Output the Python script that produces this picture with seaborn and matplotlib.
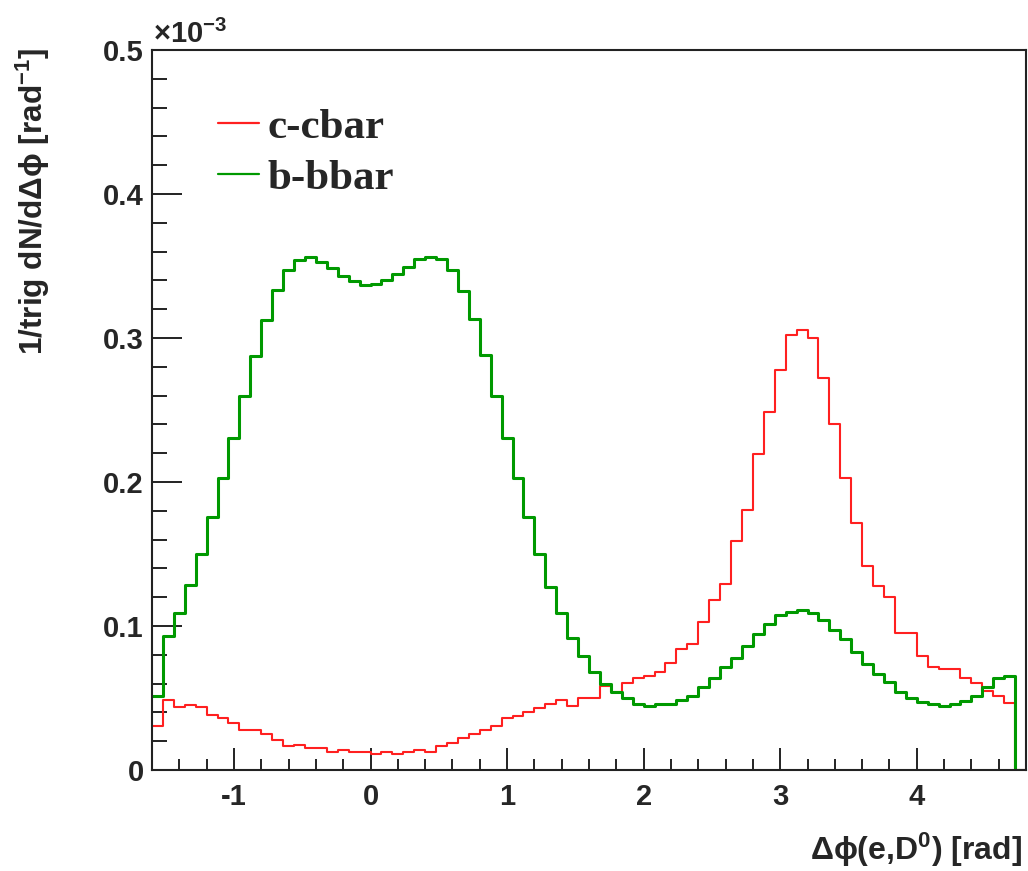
import numpy as np
import pandas as pd
import matplotlib
matplotlib.use("Agg")
import matplotlib.pyplot as plt
from matplotlib.lines import Line2D
from matplotlib.ticker import MultipleLocator, FixedLocator, FuncFormatter
import seaborn as sns

# ---- data (values in units of 1e-3 rad^-1 per trigger) ----
x_min, x_max, n_bins = -1.6, 4.8, 80

ccbar = [0.0305, 0.0485, 0.0440, 0.0454, 0.0440, 0.0384, 0.0358, 0.0325, 0.0281, 0.0281,
         0.0248, 0.0210, 0.0166, 0.0176, 0.0152, 0.0152, 0.0123, 0.0138, 0.0123, 0.0123,
         0.0109, 0.0123, 0.0109, 0.0123, 0.0138, 0.0123, 0.0166, 0.0190, 0.0219, 0.0248,
         0.0277, 0.0305, 0.0358, 0.0372, 0.0401, 0.0429, 0.0457, 0.0489, 0.0445, 0.0503,
         0.0503, 0.0584, 0.0545, 0.0601, 0.0638, 0.0652, 0.0684, 0.0740, 0.0837, 0.0874,
         0.1030, 0.1180, 0.1292, 0.1588, 0.1806, 0.2196, 0.2486, 0.2780, 0.3019, 0.3054,
         0.3003, 0.2725, 0.2405, 0.2029, 0.1714, 0.1414, 0.1278, 0.1199, 0.0948, 0.0948,
         0.0791, 0.0717, 0.0698, 0.0698, 0.0642, 0.0601, 0.0550, 0.0515, 0.0468, 0.0]

bbbar = [0.0511, 0.0928, 0.1087, 0.1283, 0.1498, 0.1754, 0.2030, 0.2305, 0.2595, 0.2873,
         0.3127, 0.3331, 0.3472, 0.3541, 0.3565, 0.3527, 0.3486, 0.3433, 0.3395, 0.3367,
         0.3373, 0.3402, 0.3443, 0.3491, 0.3546, 0.3563, 0.3546, 0.3474, 0.3323, 0.3132,
         0.2880, 0.2595, 0.2305, 0.2030, 0.1754, 0.1500, 0.1268, 0.1088, 0.0916, 0.0791,
         0.0684, 0.0596, 0.0545, 0.0503, 0.0457, 0.0443, 0.0457, 0.0457, 0.0489, 0.0512,
         0.0573, 0.0638, 0.0712, 0.0777, 0.0860, 0.0944, 0.1013, 0.1074, 0.1094, 0.1111,
         0.1088, 0.1043, 0.0972, 0.0911, 0.0819, 0.0735, 0.0666, 0.0614, 0.0545, 0.0503,
         0.0475, 0.0457, 0.0443, 0.0457, 0.0480, 0.0515, 0.0573, 0.0642, 0.0654, 0.0]

series_labels = ["c-cbar", "b-bbar"]
series_colors = ["#FF2020", "#009900"]
x_ticks = [-1, 0, 1, 2, 3, 4]
y_ticks = [0, 0.1, 0.2, 0.3, 0.4, 0.5]

edges = np.linspace(x_min, x_max, n_bins + 1)
centers = 0.5 * (edges[:-1] + edges[1:])

sns.set_style("ticks")
plt.rcParams["font.family"] = ["Liberation Sans", "DejaVu Sans"]
plt.rcParams["font.weight"] = "bold"
plt.rcParams["axes.unicode_minus"] = False
plt.rcParams["mathtext.fontset"] = "custom"
plt.rcParams["mathtext.rm"] = "Liberation Sans:bold"
plt.rcParams["mathtext.it"] = "Liberation Sans:bold"
plt.rcParams["mathtext.bf"] = "Liberation Sans:bold"
plt.rcParams["mathtext.default"] = "rm"

W, H = 1028, 871
fig = plt.figure(figsize=(W / 100, H / 100), dpi=100)
fig.patch.set_facecolor("white")
L, R, T, B = 152, 1026, 50, 770
ax = fig.add_axes([L / W, 1 - B / H, (R - L) / W, (B - T) / H])

for vals, col, lw in zip([ccbar, bbbar], series_colors, [1.5, 2.2]):
    df = pd.DataFrame({"dphi": centers, "w": vals})
    sns.histplot(data=df, x="dphi", weights="w", bins=n_bins, binrange=(x_min, x_max),
                 element="step", fill=False, color=col, linewidth=lw, ax=ax)

ax.set_xlim(x_min, x_max)
ax.set_ylim(0, 0.5)
ax.set_xlabel("")
ax.set_ylabel("")

for s in ax.spines.values():
    s.set_linewidth(1.5)
    s.set_color("#222222")

ax.xaxis.set_major_locator(FixedLocator(x_ticks))
ax.xaxis.set_minor_locator(MultipleLocator(0.2))
ax.yaxis.set_major_locator(FixedLocator(y_ticks))
ax.yaxis.set_minor_locator(MultipleLocator(0.02))
ax.yaxis.set_major_formatter(FuncFormatter(lambda v, p: f"{v:g}"))
ax.xaxis.set_major_formatter(FuncFormatter(lambda v, p: f"{v:g}"))

ax.tick_params(axis="x", which="major", direction="in", length=16, width=1.4,
               color="#222222", labelsize=21, pad=9, top=False)
ax.tick_params(axis="x", which="minor", direction="in", length=8, width=1.4,
               color="#222222", top=False)
ax.tick_params(axis="y", which="major", direction="in", length=21.5, width=1.4,
               color="#222222", labelsize=21, pad=6, right=False)
ax.tick_params(axis="y", which="minor", direction="in", length=10.8, width=1.4,
               color="#222222", right=False)
for lab in ax.get_xticklabels() + ax.get_yticklabels():
    lab.set_fontweight("bold")

handles = [Line2D([], [], color=c, linewidth=1.6) for c in series_colors]
leg = ax.legend(handles, series_labels, loc="upper left",
                bbox_to_anchor=(218 / W, 1 - 108 / H), bbox_transform=fig.transFigure,
                frameon=False, borderpad=0, borderaxespad=0, handlelength=0.95,
                handletextpad=0.21, labelspacing=0.28,
                prop={"family": "Liberation Serif", "weight": "bold", "size": 31})

fig.text(33 / W, 1 - 48 / H, "1/trig dN/dΔϕ [rad$^{-1}$]", rotation=90,
         ha="center", va="top", fontsize=22.7, fontweight="bold")
fig.text(1022 / W, 1 - 860 / H, "Δϕ(e,D$^{0}$) [rad]", ha="right", va="baseline",
         fontsize=23, fontweight="bold")
fig.text(153 / W, 1 - 43 / H, "×10$^{-3}$", ha="left", va="baseline",
         fontsize=21, fontweight="bold")

fig.savefig("out.png", dpi=100, facecolor="white")
